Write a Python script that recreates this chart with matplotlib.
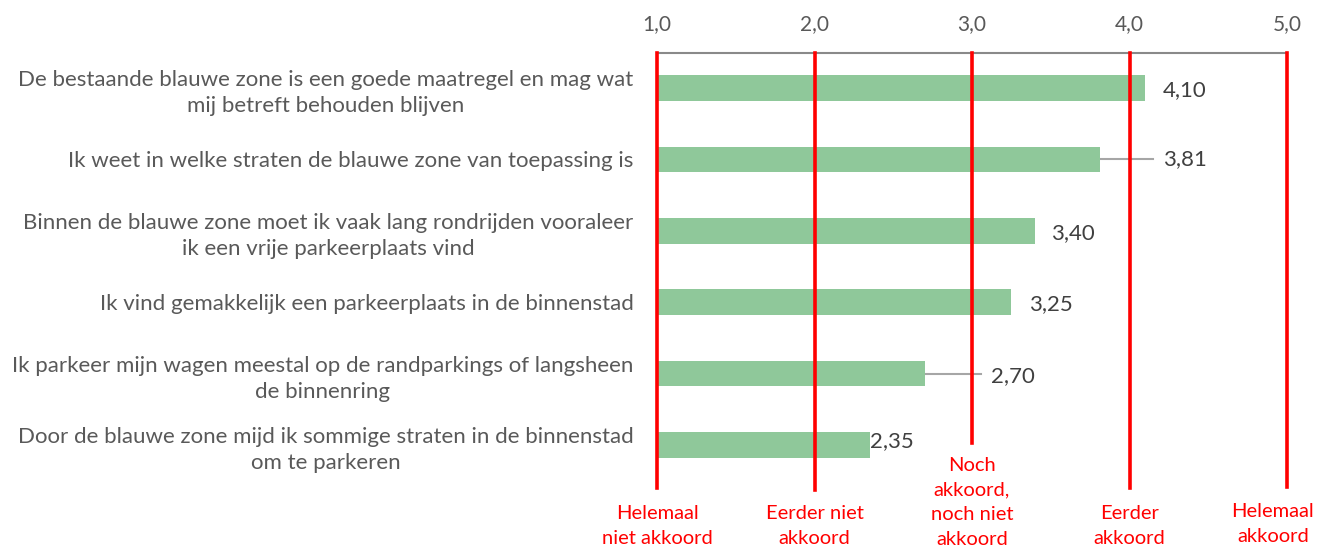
import matplotlib
matplotlib.use("Agg")
import matplotlib.pyplot as plt
import matplotlib.transforms as mtransforms

# data
statements = [
    "De bestaande blauwe zone is een goede maatregel en mag wat\nmij betreft behouden blijven",
    "Ik weet in welke straten de blauwe zone van toepassing is",
    "Binnen de blauwe zone moet ik vaak lang rondrijden vooraleer\nik een vrije parkeerplaats vind",
    "Ik vind gemakkelijk een parkeerplaats in de binnenstad",
    "Ik parkeer mijn wagen meestal op de randparkings of langsheen\nde binnenring",
    "Door de blauwe zone mijd ik sommige straten in de binnenstad\nom te parkeren",
]
scores = [4.10, 3.81, 3.40, 3.25, 2.70, 2.35]
scale_ticks = [1, 2, 3, 4, 5]
scale_names = [
    "Helemaal\nniet akkoord",
    "Eerder niet\nakkoord",
    "Noch\nakkoord,\nnoch niet\nakkoord",
    "Eerder\nakkoord",
    "Helemaal\nakkoord",
]

# layout (label placement, as moved by hand in the original)
label_x = [4.21, 4.21, 3.50, 3.36, 3.12, 2.35]
label_dy = [0.03, 0.0, 0.03, 0.02, 0.03, -0.06]
leader = [False, True, False, False, True, False]
line_bottom_px = [488, 490, 443, 488, 487]
name_top_px = [505, 505, 457, 505, 503]
name_x = [1.0, 2.0, 3.0, 4.0, 4.91]

W, H = 1321, 549
plt.rcParams['font.family'] = ['Lato', 'DejaVu Sans']
fig = plt.figure(figsize=(W / 100, H / 100), dpi=100)
ax_top, ax_bot = 53, 490
ax = fig.add_axes([657 / W, 1 - ax_bot / H, (1287 - 657) / W, (ax_bot - ax_top) / H])

grey = '#595959'
step = 71.4
y0 = (88 - ax_top) / step
ypos = list(range(len(scores)))
ax.barh(ypos, [s - 1 for s in scores], left=1, height=0.36, color='#8fc89a', zorder=2)

ax.set_xlim(1, 5)
ax.set_ylim((ax_bot - 88) / step, -y0)

for sp in ['right', 'bottom', 'left']:
    ax.spines[sp].set_visible(False)
ax.spines['top'].set_color('#898989')
ax.spines['top'].set_linewidth(1.5)

ax.xaxis.set_ticks_position('top')
ax.set_xticks(scale_ticks)
ax.set_xticklabels([f"{t:.1f}".replace('.', ',') for t in scale_ticks])
ax.tick_params(axis='x', length=0, pad=13.5, labelsize=15, labelcolor=grey)

ax.set_yticks(ypos)
ax.set_yticklabels(statements)
ax.tick_params(axis='y', length=0, pad=17, labelsize=16, labelcolor=grey)
for t in ax.get_yticklabels():
    t.set_multialignment('center')
    t.set_linespacing(1.38)

# red reference lines
for x, bpx in zip(scale_ticks, line_bottom_px):
    ax.axvline(x, ymin=(ax_bot - bpx) / (ax_bot - ax_top), ymax=1, color='#ff0000',
               lw=2.6, zorder=3, clip_on=False)

# data labels
for i, (s, lx, dy, ld) in enumerate(zip(scores, label_x, label_dy, leader)):
    if ld:
        ax.plot([s, lx - 0.06], [i, i], color='#a6a6a6', lw=1.5, zorder=1)
    ax.text(lx, i + dy, f"{s:.2f}".replace('.', ','), ha='left', va='center',
            fontsize=16, color='#404040', zorder=4)

# scale names below
trans = mtransforms.blended_transform_factory(ax.transData, fig.transFigure)
for nx, name, top in zip(name_x, scale_names, name_top_px):
    fig.text(nx, 1 - top / H, name, transform=trans, ha='center', va='top',
             fontsize=14.5, color='#ff0000', linespacing=1.55)

fig.savefig('out.png', dpi=100)
